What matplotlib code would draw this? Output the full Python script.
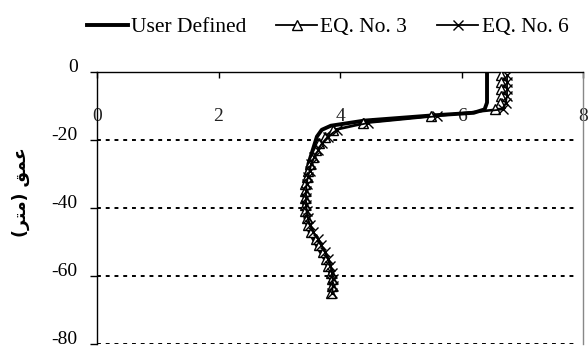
import matplotlib
matplotlib.use("Agg")
import matplotlib.pyplot as plt
from matplotlib.lines import Line2D

plt.rcParams['font.family'] = ['Liberation Serif', 'DejaVu Serif']
plt.rcParams['axes.unicode_minus'] = False

# Data
user_depth = [-0.5, -9, -11, -12, -12.8, -14.3, -15.8, -17, -19, -23, -27, -33, -39,
              -43, -47, -51, -55, -59, -63, -66]
user_val = [6.42, 6.42, 6.38, 6.2, 5.5, 4.4, 3.85, 3.7, 3.62, 3.55, 3.48, 3.43, 3.41,
            3.43, 3.5, 3.62, 3.75, 3.84, 3.86, 3.85]

eq_depth = [-1, -3, -5, -7, -9, -11, -13, -15, -17, -19, -21, -23, -25, -27, -29, -31,
            -33, -35, -37, -39, -41, -43, -45, -47, -49, -51, -53, -55, -57, -59, -61,
            -63, -65]
eq3_val = [6.65, 6.65, 6.65, 6.65, 6.63, 6.55, 5.5, 4.38, 3.88, 3.75, 3.66, 3.6, 3.55,
           3.5, 3.47, 3.45, 3.43, 3.42, 3.42, 3.42, 3.43, 3.45, 3.48, 3.53, 3.6, 3.66,
           3.72, 3.77, 3.81, 3.85, 3.86, 3.86, 3.85]
eq6_val = [6.75, 6.75, 6.75, 6.75, 6.73, 6.68, 5.6, 4.46, 3.95, 3.8, 3.7, 3.64, 3.58,
           3.53, 3.5, 3.47, 3.45, 3.44, 3.44, 3.44, 3.45, 3.47, 3.5, 3.56, 3.63, 3.69,
           3.75, 3.8, 3.84, 3.87, 3.88, 3.88, 3.87]

x_ticks = [0, 2, 4, 6, 8]
y_ticks = [0, -20, -40, -60, -80]
labels = ["User Defined", "EQ. No. 3", "EQ. No. 6"]
# visual-order Arabic presentation forms for "عمق (متر)"
ylabel_text = "(\uFEAE\uFE98\uFEE3) \uFED6\uFEE4\uFECB"

fig = plt.figure(figsize=(5.88, 3.47), dpi=100)
ax = fig.add_axes([0.165, 0.0087, 0.8265, 0.7838])

ax.plot(user_val, user_depth, color='black', lw=2.8, label=labels[0], zorder=3)
ax.plot(eq3_val, eq_depth, color='black', lw=1.3, marker='^', ms=6.5,
        mfc='white', mec='black', mew=1.0, label=labels[1], zorder=4)
ax.plot(eq6_val, eq_depth, color='black', lw=1.3, marker='x', ms=7,
        mec='black', mew=1.0, label=labels[2], zorder=4)

ax.set_xlim(0, 8)
ax.set_ylim(-80, 0)
ax.set_xticks(x_ticks)
ax.set_yticks(y_ticks)

for yv in y_ticks[1:]:
    ax.axhline(yv, color='black', lw=1.4, ls=(0, (2, 2.5)), zorder=1,
               xmin=0, xmax=0.99)

ax.spines['bottom'].set_visible(False)
ax.spines['top'].set_color('black')
ax.spines['top'].set_linewidth(1.0)
ax.spines['left'].set_color('black')
ax.spines['left'].set_linewidth(1.0)
ax.spines['right'].set_color('#888888')
ax.spines['right'].set_linewidth(1.0)

ax.tick_params(axis='x', top=True, bottom=False, labeltop=True, labelbottom=False,
               direction='in', length=4, width=1, pad=-38, labelsize=14,
               colors='black', labelcolor='#222222')
ax.tick_params(axis='y', left=True, right=False, direction='out', length=5,
               width=1, labelsize=14, pad=9)
for lbl in ax.get_yticklabels():
    lbl.set_va('baseline')

ax.set_ylabel(ylabel_text, family=['DejaVu Sans'], fontweight='bold',
              fontsize=12.5)
ax.yaxis.set_label_coords(-0.138, 0.56)

handles = [
    Line2D([], [], color='black', lw=2.8),
    Line2D([], [], color='black', lw=1.3, marker='^', ms=6.5, mfc='white', mec='black', mew=1.0),
    Line2D([], [], color='black', lw=1.3, marker='x', ms=7, mec='black', mew=1.0),
]
fig.legend(handles, labels, loc='center', bbox_to_anchor=(0.557, 0.922), ncol=3,
           frameon=False, fontsize=15.5, handlelength=1.9, handletextpad=0.15,
           columnspacing=1.4)

fig.savefig("out.png", dpi=100)
